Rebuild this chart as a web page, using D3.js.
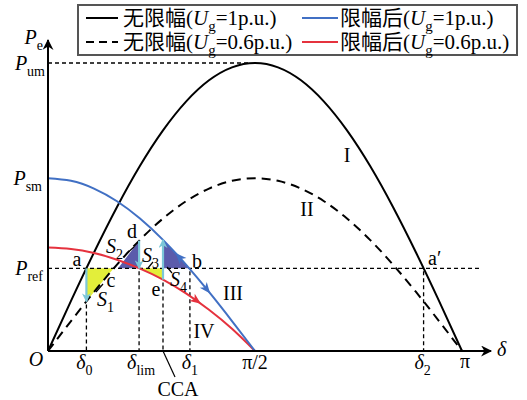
<!DOCTYPE html>
<html>
<head>
<meta charset="utf-8">
<script src="https://cdn.jsdelivr.net/npm/d3@7"></script>
<style>
body { margin: 0; background: #fff; }
text { font-family: "Liberation Serif", "Times New Roman", "Noto Sans CJK SC", serif; fill: #000; }
</style>
</head>
<body>
<svg id="chart" width="527" height="400"></svg>
<script>
// power angle (degrees) and electrical power (Pum = 1)
var degFull = [0,10,20,30,40,50,60,70,80,90,100,110,120,130,140,150,160,170,180];
var noLimit1 = [0,0.174,0.342,0.5,0.643,0.766,0.866,0.94,0.985,1,0.985,0.94,0.866,0.766,0.643,0.5,0.342,0.174,0];
var noLimit06 = [0,0.104,0.205,0.3,0.386,0.46,0.52,0.564,0.591,0.6,0.591,0.564,0.52,0.46,0.386,0.3,0.205,0.104,0];
var degHalf = [0,10,20,30,40,50,60,70,80,90];
var limited1 = [0.6,0.591,0.564,0.52,0.46,0.386,0.3,0.205,0.104,0];
var limited06 = [0.359,0.354,0.34,0.317,0.286,0.248,0.2,0.143,0.077,0];

// key angles and levels
var d0 = 16.7, dC = 28.6, dLim = 39.6, dCCA = 50, d1 = 61.7, d2 = 163.3;
var pRef = 0.287, pSm = 0.6, pUm = 1;
var pDrop0 = 0.172, pD = 0.383, pE = 0.248, pTopCCA = 0.386;
var s2Left = 30.5;

var legendNames = ["无限幅", "无限幅", "限幅后", "限幅后"];
var legendUg = ["1p.u.", "0.6p.u.", "1p.u.", "0.6p.u."];

var blue = "#4170c4", red = "#e5323e", cyan = "#7cc7d8", purple = "#5b5bab", yellow = "#e3ee3a";

var svg = d3.select("#chart");
var x = d3.scaleLinear().domain([0, 180]).range([48, 462]);
var y = d3.scaleLinear().domain([0, 1]).range([351, 63]);

var zipFull = function(vals){ return degFull.map(function(d, i){ return [d, vals[i]]; }); };
var zipHalf = function(vals){ return degHalf.map(function(d, i){ return [d, vals[i]]; }); };

var line = d3.line().x(d => x(d[0])).y(d => y(d[1])).curve(d3.curveNatural);

// markers
var defs = svg.append("defs");
function marker(id, color, w, h){
  defs.append("marker").attr("id", id)
    .attr("viewBox", "0 0 10 10").attr("refX", 9).attr("refY", 5)
    .attr("markerUnits", "userSpaceOnUse")
    .attr("markerWidth", w).attr("markerHeight", h)
    .attr("orient", "auto")
    .append("path").attr("d", "M0,0 L10,5 L0,10 L3,5 Z").attr("fill", color);
}
marker("axArr", "#000", 14, 11);
marker("cyArr", cyan, 10, 9);

// shaded areas between a curve and Pref, clipped to an angle range
function shade(id, data, from, to, color){
  defs.append("clipPath").attr("id", id).append("rect")
    .attr("x", x(from)).attr("y", 0).attr("width", x(to) - x(from)).attr("height", 400);
  var area = d3.area().x(d => x(d[0])).y0(y(pRef)).y1(d => y(d[1])).curve(d3.curveNatural);
  svg.append("path").datum(data).attr("d", area).attr("fill", color)
    .attr("clip-path", "url(#" + id + ")");
}
shade("clipS1", zipFull(noLimit06), d0, dC, yellow);
shade("clipS3", zipHalf(limited06), dLim, dCCA, yellow);
shade("clipS4", zipHalf(limited1), dCCA, d1, purple);
var s2 = [[s2Left, pRef], [dLim, pD], [dLim, pRef]];
svg.append("path").attr("d", d3.line().x(d => x(d[0])).y(d => y(d[1]))(s2) + "Z").attr("fill", purple);

// dashed guides
var guides = svg.append("g").attr("stroke", "#000").attr("stroke-width", 1.3).attr("stroke-dasharray", "4,3");
guides.append("line").attr("x1", x(0)).attr("x2", x(87)).attr("y1", y(pUm)).attr("y2", y(pUm));
guides.append("line").attr("x1", x(0)).attr("x2", 480).attr("y1", y(pRef)).attr("y2", y(pRef));
[[d0, pDrop0], [dLim, pRef], [dCCA, pE], [d1, pRef], [d2, pRef]].forEach(function(v){
  guides.append("line").attr("x1", x(v[0])).attr("x2", x(v[0])).attr("y1", y(v[1]) + 3).attr("y2", y(0));
});

// curves
svg.append("path").datum(zipFull(noLimit06)).attr("d", line).attr("fill", "none")
  .attr("stroke", "#000").attr("stroke-width", 2).attr("stroke-dasharray", "9,6");
svg.append("path").datum(zipFull(noLimit1)).attr("d", line).attr("fill", "none")
  .attr("stroke", "#000").attr("stroke-width", 2);
var redPath = svg.append("path").datum(zipHalf(limited06)).attr("d", line).attr("fill", "none")
  .attr("stroke", red).attr("stroke-width", 2);
var bluePath = svg.append("path").datum(zipHalf(limited1)).attr("d", line).attr("fill", "none")
  .attr("stroke", blue).attr("stroke-width", 2);

// axes
svg.append("line").attr("x1", x(0)).attr("y1", y(0)).attr("x2", 491).attr("y2", y(0))
  .attr("stroke", "#000").attr("stroke-width", 2).attr("marker-end", "url(#axArr)");
svg.append("line").attr("x1", x(0)).attr("y1", y(0)).attr("x2", x(0)).attr("y2", 40)
  .attr("stroke", "#000").attr("stroke-width", 2).attr("marker-end", "url(#axArr)");

// cyan transition arrows
[[d0, pRef, pDrop0], [dLim, pD, pRef], [dCCA, pE, pTopCCA]].forEach(function(v){
  svg.append("line").attr("x1", x(v[0])).attr("x2", x(v[0])).attr("y1", y(v[1])).attr("y2", y(v[2]))
    .attr("stroke", cyan).attr("stroke-width", 2.2).attr("marker-end", "url(#cyArr)");
});

// arrowheads riding on curves
function pointAtX(node, px){
  var lo = 0, hi = node.getTotalLength();
  for (var k = 0; k < 40; k++){
    var mid = (lo + hi) / 2;
    if (node.getPointAtLength(mid).x < px) lo = mid; else hi = mid;
  }
  return lo;
}
function curveArrow(path, deg, dir, color){
  var node = path.node();
  var l = pointAtX(node, x(deg));
  var p = node.getPointAtLength(l), q = node.getPointAtLength(l + dir * 2);
  var a = Math.atan2(q.y - p.y, q.x - p.x) * 180 / Math.PI;
  svg.append("path").attr("d", "M0,0 L-11,-4.5 L-8,0 L-11,4.5 Z").attr("fill", color)
    .attr("transform", "translate(" + p.x + "," + p.y + ") rotate(" + a + ")");
}
curveArrow(bluePath, 55.5, -1, blue);
curveArrow(bluePath, 70.5, 1, blue);
curveArrow(redPath, 66.5, 1, red);

// rich text with italics and subscripts
function rich(g, px, py, parts, size, anchor){
  var t = g.append("text").attr("x", px).attr("y", py).attr("font-size", size)
    .attr("text-anchor", anchor || "start");
  var shift = 0;
  parts.forEach(function(p){
    var s = p.sub ? Math.round(size * 0.28) : 0;
    var ts = t.append("tspan").text(p.t).attr("dy", s - shift);
    shift = s;
    if (p.i) ts.attr("font-style", "italic");
    if (p.sub) ts.attr("font-size", Math.round(size * 0.7));
  });
  return t;
}
var lab = svg.append("g");
var fs = 20;
rich(lab, 43, 44, [{t: "P", i: 1}, {t: "e", sub: 1}], fs, "end");
rich(lab, 45, y(pUm) + 7, [{t: "P", i: 1}, {t: "um", sub: 1}], fs, "end");
rich(lab, 42, y(pSm) + 7, [{t: "P", i: 1}, {t: "sm", sub: 1}], fs, "end");
rich(lab, 43, y(pRef) + 7, [{t: "P", i: 1}, {t: "ref", sub: 1}], fs, "end");
rich(lab, 36, 366, [{t: "O", i: 1}], fs, "middle");
var tickY = 369;
rich(lab, x(d0) - 2, tickY, [{t: "δ", i: 1}, {t: "0", sub: 1}], fs, "middle");
rich(lab, x(dLim) + 2, tickY, [{t: "δ", i: 1}, {t: "lim", sub: 1}], fs, "middle");
rich(lab, x(d1), tickY, [{t: "δ", i: 1}, {t: "1", sub: 1}], fs, "middle");
rich(lab, x(90), tickY, [{t: "π/2"}], fs, "middle");
rich(lab, x(d2) - 1, tickY, [{t: "δ", i: 1}, {t: "2", sub: 1}], fs, "middle");
rich(lab, x(180) + 3, tickY - 1, [{t: "π"}], fs, "middle");
rich(lab, 497, 356, [{t: "δ", i: 1}], fs, "start");
rich(lab, 178, 396, [{t: "CCA"}], fs, "middle");
svg.append("line").attr("x1", x(dCCA)).attr("y1", y(0)).attr("x2", 175).attr("y2", 377)
  .attr("stroke", "#000").attr("stroke-width", 1.2);

// point and area labels
rich(lab, 77, 266, [{t: "a"}], fs, "middle");
rich(lab, 111, 287, [{t: "c"}], fs, "middle");
rich(lab, 132, 238, [{t: "d"}], fs, "middle");
rich(lab, 156, 296, [{t: "e"}], fs, "middle");
rich(lab, 197, 268, [{t: "b"}], fs, "middle");
rich(lab, 428, 265, [{t: "a′"}], fs, "start");
rich(lab, 97, 306, [{t: "S", i: 1}, {t: "1", sub: 1}], fs, "start");
rich(lab, 106, 253, [{t: "S", i: 1}, {t: "2", sub: 1}], fs, "start");
rich(lab, 142, 262, [{t: "S", i: 1}, {t: "3", sub: 1}], fs, "start");
rich(lab, 170, 286, [{t: "S", i: 1}, {t: "4", sub: 1}], fs, "start");
var leaders = [[96, 292, 103, 284], [126, 254, 134, 247], [148, 268, 153, 262], [167, 267, 172, 273]];
leaders.forEach(function(l){
  svg.append("line").attr("x1", l[0]).attr("y1", l[1]).attr("x2", l[2]).attr("y2", l[3])
    .attr("stroke", "#000").attr("stroke-width", 1.2);
});
rich(lab, 347, 162, [{t: "I"}], fs, "middle");
rich(lab, 307, 216, [{t: "II"}], fs, "middle");
rich(lab, 233, 300, [{t: "III"}], fs, "middle");
rich(lab, 204, 338, [{t: "IV"}], fs, "middle");

// legend
var lg = svg.append("g");
lg.append("rect").attr("x", 78).attr("y", 5).attr("width", 439).attr("height", 50)
  .attr("fill", "#fff").attr("stroke", "#555").attr("stroke-width", 2);
var legStyles = [["#000", null], ["#000", "8,5"], [blue, null], [red, null]];
legendNames.forEach(function(name, i){
  var col = i < 2 ? 0 : 1;
  var row = i % 2;
  var lx = col ? 302 : 86, ly = row ? 42 : 18;
  lg.append("line").attr("x1", lx).attr("x2", lx + (col ? 36 : 32)).attr("y1", ly).attr("y2", ly)
    .attr("stroke", legStyles[i][0]).attr("stroke-width", 2)
    .attr("stroke-dasharray", legStyles[i][1]);
  rich(lg, lx + (col ? 38 : 37), ly + 7,
    [{t: name + "("}, {t: "U", i: 1}, {t: "g", sub: 1}, {t: "=" + legendUg[i] + ")"}], 21, "start");
});
</script>
</body>
</html>
